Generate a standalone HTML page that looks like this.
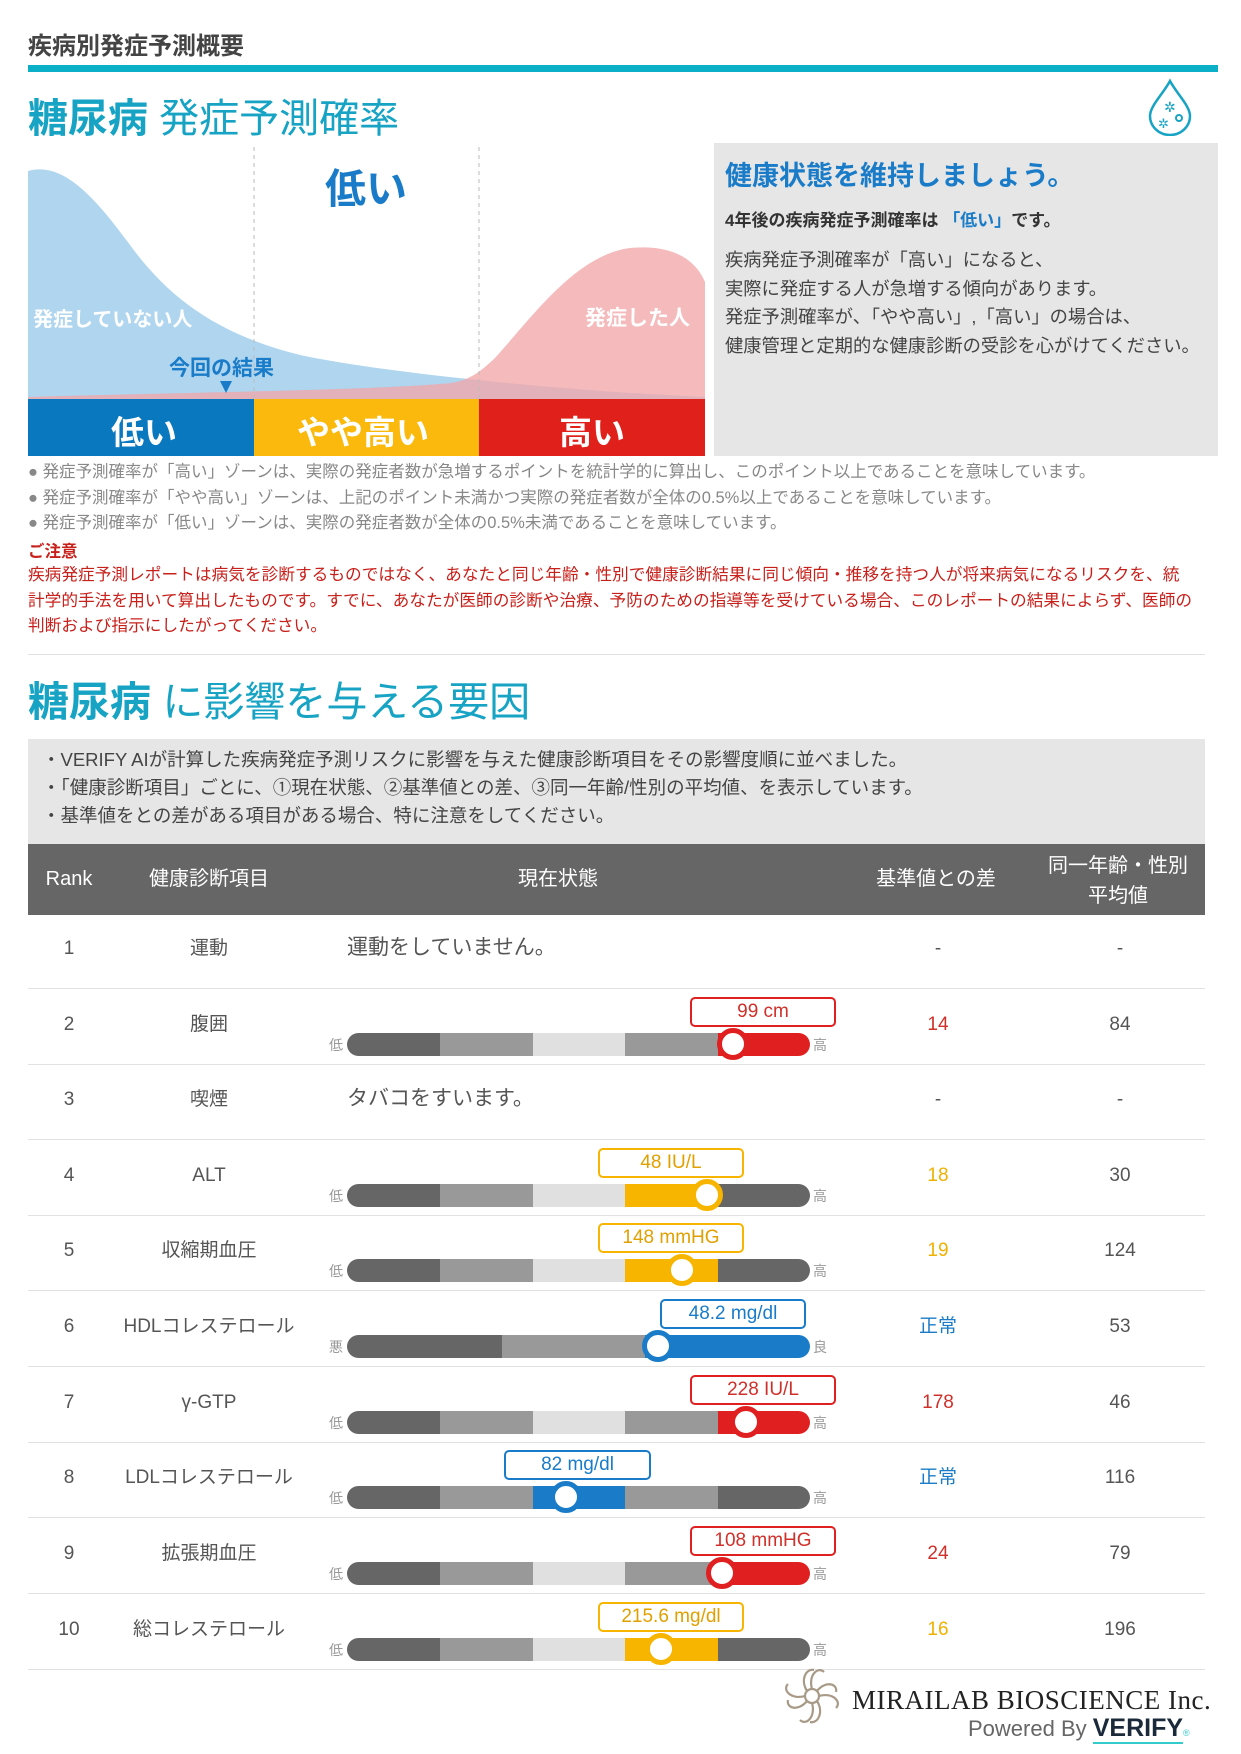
<!DOCTYPE html>
<html><head><meta charset="utf-8"><style>
*{margin:0;padding:0;box-sizing:border-box}
body{width:1241px;height:1754px;background:#fff;position:relative;overflow:hidden;font-family:"Liberation Sans","Noto Sans CJK JP",sans-serif;color:#444}
.a{position:absolute;white-space:nowrap}
.c{transform:translateX(-50%)}
.seg{position:absolute;height:23px}
.lbl{position:absolute;height:30px;border:2px solid;border-radius:5px;background:#fff;font-size:19px;text-align:center;line-height:26px}
.mk{position:absolute;width:32px;height:32px;border-radius:50%;background:#fff;border:5px solid}
.hl{position:absolute;left:28px;width:1177px;height:1px;background:#e2e2e2}
.sm{font-size:14px;color:#999;line-height:18px}
.rt{font-size:19px;color:#555;line-height:24px;height:24px}
</style></head><body>
<div class="a" style="left:28px;top:26px;font-size:24px;font-weight:bold;color:#444">疾病別発症予測概要</div>
<div class="a" style="left:28px;top:65px;width:1190px;height:7px;background:#0bb0c8"></div>
<div class="a" style="left:28px;top:86px;font-size:40px;color:#17a3c4"><b>糖尿病</b> 発症予測確率</div>
<svg class="a" style="left:1145px;top:78px" width="50" height="58" viewBox="0 0 50 58"><path d="M25 3 C18 16 5 28 5 38 A20 19 0 0 0 45 38 C45 28 32 16 25 3Z" fill="none" stroke="#17a3c4" stroke-width="2.5"/><text x="19" y="34" font-size="14" fill="#17a3c4">✲</text><text x="13" y="50" font-size="13" fill="#17a3c4">✲</text><circle cx="34" cy="40" r="3" fill="none" stroke="#17a3c4" stroke-width="2"/></svg>
<svg class="a" style="left:0;top:0" width="710" height="460">
<path d="M28,400 L28,171 C60,162 90,190 130,245 C170,300 220,335 300,355 C380,372 550,390 705,397 L705,400Z" fill="#afd5ef"/>
<path d="M28,400 L28,397 C200,392 380,390 451,383 C470,380 480,372 495,358 C530,320 575,255 630,248 C670,244 695,258 705,282 L705,400Z" fill="#f1a7a9" fill-opacity="0.78"/>
<line x1="254" y1="147" x2="254" y2="399" stroke="#bbb" stroke-dasharray="4,4"/>
<line x1="479" y1="147" x2="479" y2="399" stroke="#bbb" stroke-dasharray="4,4"/>
<rect x="28" y="399" width="226" height="57" fill="#0a78bf"/>
<rect x="254" y="399" width="225" height="57" fill="#fbb90d"/>
<rect x="479" y="399" width="226" height="57" fill="#e0201b"/>
<polygon points="220,381 232,381 226,393" fill="#1a7cc8"/>
</svg>
<div class="a" style="left:325px;top:155px;font-size:41px;font-weight:bold;color:#1a7cc8">低い</div>
<div class="a" style="left:33px;top:303px;font-size:20px;font-weight:bold;color:#fff">発症していない人</div>
<div class="a" style="left:585px;top:302px;font-size:21px;font-weight:bold;color:#fff">発症した人</div>
<div class="a" style="left:169px;top:352px;font-size:21px;font-weight:bold;color:#1a7cc8">今回の結果</div>
<div class="a" style="left:111px;top:406px;font-size:33px;font-weight:bold;color:#fff">低い</div>
<div class="a" style="left:297px;top:406px;font-size:33px;font-weight:bold;color:#fff">やや高い</div>
<div class="a" style="left:559px;top:406px;font-size:33px;font-weight:bold;color:#fff">高い</div>
<div class="a" style="left:714px;top:143px;width:504px;height:313px;background:#e6e6e6"></div>
<div class="a" style="left:725px;top:154px;font-size:27px;font-weight:bold;color:#1a7cc8">健康状態を維持しましょう。</div>
<div class="a" style="left:725px;top:206px;font-size:17px;font-weight:bold;color:#333">4年後の疾病発症予測確率は <span style="color:#1a7cc8">「低い」</span>です。</div>
<div class="a" style="left:725px;top:246px;font-size:18.3px;line-height:28.5px;color:#444">疾病発症予測確率が「高い」になると、<br>実際に発症する人が急増する傾向があります。<br>発症予測確率が、「やや高い」,「高い」の場合は、<br>健康管理と定期的な健康診断の受診を心がけてください。</div>
<div class="a" style="left:28px;top:460px;font-size:16.5px;line-height:25.5px;color:#888">● 発症予測確率が「高い」ゾーンは、実際の発症者数が急増するポイントを統計学的に算出し、このポイント以上であることを意味しています。<br>● 発症予測確率が「やや高い」ゾーンは、上記のポイント未満かつ実際の発症者数が全体の0.5%以上であることを意味しています。<br>● 発症予測確率が「低い」ゾーンは、実際の発症者数が全体の0.5%未満であることを意味しています。</div>
<div class="a" style="left:28px;top:538px;font-size:16.5px;font-weight:bold;color:#c8201b">ご注意</div>
<div class="a" style="left:28px;top:562px;font-size:16.7px;line-height:25.5px;color:#c8201b">疾病発症予測レポートは病気を診断するものではなく、あなたと同じ年齢・性別で健康診断結果に同じ傾向・推移を持つ人が将来病気になるリスクを、統<br>計学的手法を用いて算出したものです。すでに、あなたが医師の診断や治療、予防のための指導等を受けている場合、このレポートの結果によらず、医師の<br>判断および指示にしたがってください。</div>
<div class="hl" style="top:654px"></div>
<div class="a" style="left:28px;top:668px;font-size:41px;color:#17a3c4"><b>糖尿病</b> に影響を与える要因</div>
<div class="a" style="left:28px;top:739px;width:1177px;height:105px;background:#e6e6e6"></div>
<div class="a" style="left:42px;top:746px;font-size:18.5px;line-height:28px;color:#444">・VERIFY AIが計算した疾病発症予測リスクに影響を与えた健康診断項目をその影響度順に並べました。<br>・「健康診断項目」ごとに、①現在状態、②基準値との差、③同一年齢/性別の平均値、を表示しています。<br>・基準値をとの差がある項目がある場合、特に注意をしてください。</div>
<div class="a" style="left:28px;top:844px;width:1177px;height:71px;background:#666"></div>
<div class="a c" style="left:69px;top:866px;font-size:20px;line-height:26px;color:#fff">Rank</div>
<div class="a c" style="left:209px;top:866px;font-size:20px;line-height:26px;color:#fff">健康診断項目</div>
<div class="a c" style="left:558px;top:866px;font-size:20px;line-height:26px;color:#fff">現在状態</div>
<div class="a c" style="left:936px;top:866px;font-size:20px;line-height:26px;color:#fff">基準値との差</div>
<div class="a c" style="left:1118px;top:851px;font-size:20px;line-height:30px;color:#fff;text-align:center">同一年齢・性別<br>平均値</div>

<div class="a c rt" style="left:69px;top:937px">1</div><div class="a c rt" style="left:209px;top:937px">運動</div>
<div class="a" style="left:347px;top:934px;font-size:21px;line-height:28px;color:#555">運動をしていません。</div>
<div class="a c rt" style="left:938px;top:937px">-</div><div class="a c rt" style="left:1120px;top:937px">-</div>
<div class="hl" style="top:988px"></div>

<div class="a c rt" style="left:69px;top:1013px">2</div><div class="a c rt" style="left:209px;top:1013px">腹囲</div>
<div class="a c rt" style="left:938px;top:1013px;color:#d0302a">14</div><div class="a c rt" style="left:1120px;top:1013px">84</div>
<div class="hl" style="top:1064px"></div>

<div class="a c rt" style="left:69px;top:1088px">3</div><div class="a c rt" style="left:209px;top:1088px">喫煙</div>
<div class="a" style="left:347px;top:1085px;font-size:21px;line-height:28px;color:#555">タバコをすいます。</div>
<div class="a c rt" style="left:938px;top:1088px">-</div><div class="a c rt" style="left:1120px;top:1088px">-</div>
<div class="hl" style="top:1139px"></div>

<div class="a c rt" style="left:69px;top:1164px">4</div><div class="a c rt" style="left:209px;top:1164px">ALT</div>
<div class="a c rt" style="left:938px;top:1164px;color:#f0b000">18</div><div class="a c rt" style="left:1120px;top:1164px">30</div>
<div class="hl" style="top:1215px"></div>

<div class="a c rt" style="left:69px;top:1239px">5</div><div class="a c rt" style="left:209px;top:1239px">収縮期血圧</div>
<div class="a c rt" style="left:938px;top:1239px;color:#f0b000">19</div><div class="a c rt" style="left:1120px;top:1239px">124</div>
<div class="hl" style="top:1290px"></div>

<div class="a c rt" style="left:69px;top:1315px">6</div><div class="a c rt" style="left:209px;top:1315px">HDLコレステロール</div>
<div class="a c rt" style="left:938px;top:1315px;color:#1a7cc8">正常</div><div class="a c rt" style="left:1120px;top:1315px">53</div>
<div class="hl" style="top:1366px"></div>

<div class="a c rt" style="left:69px;top:1391px">7</div><div class="a c rt" style="left:209px;top:1391px">γ-GTP</div>
<div class="a c rt" style="left:938px;top:1391px;color:#d0302a">178</div><div class="a c rt" style="left:1120px;top:1391px">46</div>
<div class="hl" style="top:1442px"></div>

<div class="a c rt" style="left:69px;top:1466px">8</div><div class="a c rt" style="left:209px;top:1466px">LDLコレステロール</div>
<div class="a c rt" style="left:938px;top:1466px;color:#1a7cc8">正常</div><div class="a c rt" style="left:1120px;top:1466px">116</div>
<div class="hl" style="top:1517px"></div>

<div class="a c rt" style="left:69px;top:1542px">9</div><div class="a c rt" style="left:209px;top:1542px">拡張期血圧</div>
<div class="a c rt" style="left:938px;top:1542px;color:#d0302a">24</div><div class="a c rt" style="left:1120px;top:1542px">79</div>
<div class="hl" style="top:1593px"></div>

<div class="a c rt" style="left:69px;top:1618px">10</div><div class="a c rt" style="left:209px;top:1618px">総コレステロール</div>
<div class="a c rt" style="left:938px;top:1618px;color:#f0b000">16</div><div class="a c rt" style="left:1120px;top:1618px">196</div>
<div class="hl" style="top:1669px"></div>

<div class="a" style="left:347px;top:1033px;width:463px;height:23px;border-radius:12px;overflow:hidden">
<div class="seg" style="left:0;width:93px;background:#666"></div><div class="seg" style="left:93px;width:93px;background:#999"></div><div class="seg" style="left:186px;width:92px;background:#e0e0e0"></div><div class="seg" style="left:278px;width:93px;background:#999"></div><div class="seg" style="left:371px;width:92px;background:#e02020"></div></div>
<div class="a sm" style="left:329px;top:1036px">低</div><div class="a sm" style="left:813px;top:1036px">高</div>
<div class="lbl" style="left:690px;top:997px;width:146px;border-color:#e02020;color:#d0302a">99 cm</div>
<div class="mk" style="left:717px;top:1028px;border-color:#e02020"></div>

<div class="a" style="left:347px;top:1184px;width:463px;height:23px;border-radius:12px;overflow:hidden">
<div class="seg" style="left:0;width:93px;background:#666"></div><div class="seg" style="left:93px;width:93px;background:#999"></div><div class="seg" style="left:186px;width:92px;background:#e0e0e0"></div><div class="seg" style="left:278px;width:93px;background:#f7b500"></div><div class="seg" style="left:371px;width:92px;background:#666"></div></div>
<div class="a sm" style="left:329px;top:1187px">低</div><div class="a sm" style="left:813px;top:1187px">高</div>
<div class="lbl" style="left:598px;top:1148px;width:146px;border-color:#f7b500;color:#e0a000">48 IU/L</div>
<div class="mk" style="left:691px;top:1179px;border-color:#f7b500"></div>

<div class="a" style="left:347px;top:1259px;width:463px;height:23px;border-radius:12px;overflow:hidden">
<div class="seg" style="left:0;width:93px;background:#666"></div><div class="seg" style="left:93px;width:93px;background:#999"></div><div class="seg" style="left:186px;width:92px;background:#e0e0e0"></div><div class="seg" style="left:278px;width:93px;background:#f7b500"></div><div class="seg" style="left:371px;width:92px;background:#666"></div></div>
<div class="a sm" style="left:329px;top:1262px">低</div><div class="a sm" style="left:813px;top:1262px">高</div>
<div class="lbl" style="left:598px;top:1223px;width:146px;border-color:#f7b500;color:#e0a000">148 mmHG</div>
<div class="mk" style="left:666px;top:1254px;border-color:#f7b500"></div>

<div class="a" style="left:347px;top:1335px;width:463px;height:23px;border-radius:12px;overflow:hidden">
<div class="seg" style="left:0;width:155px;background:#666"></div><div class="seg" style="left:155px;width:143px;background:#999"></div><div class="seg" style="left:298px;width:165px;background:#1a7cc8"></div></div>
<div class="a sm" style="left:329px;top:1338px">悪</div><div class="a sm" style="left:813px;top:1338px">良</div>
<div class="lbl" style="left:660px;top:1299px;width:146px;border-color:#1a7cc8;color:#1a7cc8">48.2 mg/dl</div>
<div class="mk" style="left:642px;top:1330px;border-color:#1a7cc8"></div>

<div class="a" style="left:347px;top:1411px;width:463px;height:23px;border-radius:12px;overflow:hidden">
<div class="seg" style="left:0;width:93px;background:#666"></div><div class="seg" style="left:93px;width:93px;background:#999"></div><div class="seg" style="left:186px;width:92px;background:#e0e0e0"></div><div class="seg" style="left:278px;width:93px;background:#999"></div><div class="seg" style="left:371px;width:92px;background:#e02020"></div></div>
<div class="a sm" style="left:329px;top:1414px">低</div><div class="a sm" style="left:813px;top:1414px">高</div>
<div class="lbl" style="left:690px;top:1375px;width:146px;border-color:#e02020;color:#d0302a">228 IU/L</div>
<div class="mk" style="left:730px;top:1406px;border-color:#e02020"></div>

<div class="a" style="left:347px;top:1486px;width:463px;height:23px;border-radius:12px;overflow:hidden">
<div class="seg" style="left:0;width:93px;background:#666"></div><div class="seg" style="left:93px;width:93px;background:#999"></div><div class="seg" style="left:186px;width:92px;background:#1a7cc8"></div><div class="seg" style="left:278px;width:93px;background:#999"></div><div class="seg" style="left:371px;width:92px;background:#666"></div></div>
<div class="a sm" style="left:329px;top:1489px">低</div><div class="a sm" style="left:813px;top:1489px">高</div>
<div class="lbl" style="left:504px;top:1450px;width:147px;border-color:#1a7cc8;color:#1a7cc8">82 mg/dl</div>
<div class="mk" style="left:550px;top:1481px;border-color:#1a7cc8"></div>

<div class="a" style="left:347px;top:1562px;width:463px;height:23px;border-radius:12px;overflow:hidden">
<div class="seg" style="left:0;width:93px;background:#666"></div><div class="seg" style="left:93px;width:93px;background:#999"></div><div class="seg" style="left:186px;width:92px;background:#e0e0e0"></div><div class="seg" style="left:278px;width:93px;background:#999"></div><div class="seg" style="left:371px;width:92px;background:#e02020"></div></div>
<div class="a sm" style="left:329px;top:1565px">低</div><div class="a sm" style="left:813px;top:1565px">高</div>
<div class="lbl" style="left:690px;top:1526px;width:146px;border-color:#e02020;color:#d0302a">108 mmHG</div>
<div class="mk" style="left:706px;top:1557px;border-color:#e02020"></div>

<div class="a" style="left:347px;top:1638px;width:463px;height:23px;border-radius:12px;overflow:hidden">
<div class="seg" style="left:0;width:93px;background:#666"></div><div class="seg" style="left:93px;width:93px;background:#999"></div><div class="seg" style="left:186px;width:92px;background:#e0e0e0"></div><div class="seg" style="left:278px;width:93px;background:#f7b500"></div><div class="seg" style="left:371px;width:92px;background:#666"></div></div>
<div class="a sm" style="left:329px;top:1641px">低</div><div class="a sm" style="left:813px;top:1641px">高</div>
<div class="lbl" style="left:598px;top:1602px;width:146px;border-color:#f7b500;color:#e0a000">215.6 mg/dl</div>
<div class="mk" style="left:645px;top:1633px;border-color:#f7b500"></div>

<svg class="a" style="left:778px;top:1660px" width="68" height="72" viewBox="0 0 68 72"><g fill="none" stroke="#a89a86" stroke-width="2.2"><circle cx="34" cy="36" r="7"/><path d="M34 29 C30 15 40 6 46 12"/><path d="M41 36 C55 32 64 42 58 48"/><path d="M34 43 C38 57 28 66 22 60"/><path d="M27 36 C13 40 4 30 10 24"/><path d="M39 31 C48 20 60 24 58 32"/><path d="M39 41 C46 52 40 64 32 62"/><path d="M29 41 C20 52 8 48 10 40"/><path d="M29 31 C22 20 28 8 36 10"/></g></svg>
<div class="a" style="left:852px;top:1685px;font-family:'Liberation Serif',serif;font-size:27px;color:#222;letter-spacing:0.5px">MIRAILAB BIOSCIENCE Inc.</div>
<div class="a" style="left:968px;top:1714px;font-size:22px;color:#666">Powered By <b style="color:#1b2a3a;font-size:25px;border-bottom:2px solid #3cc">VERIFY</b><span style="color:#3cc;font-size:9px">®</span></div>
</body></html>
